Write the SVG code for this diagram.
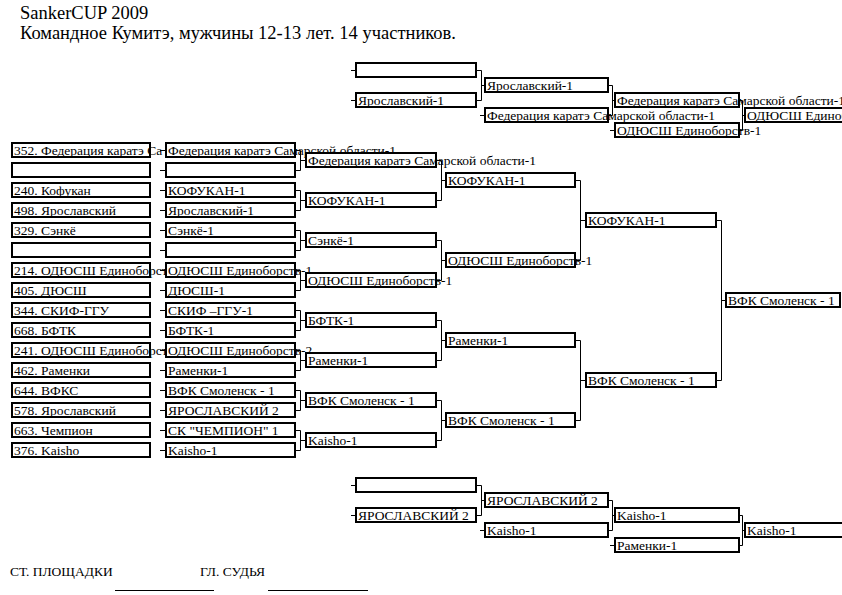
<svg xmlns="http://www.w3.org/2000/svg" width="842" height="595" viewBox="0 0 842 595">
<style>
.b{fill:#fff;stroke:#000;stroke-width:2}
.t{font-family:"Liberation Serif","Times New Roman",serif;font-size:13.5px;fill:#000}
.h{font-family:"Liberation Serif","Times New Roman",serif;font-size:18.5px;fill:#000}
.c{fill:none;stroke:#000;stroke-width:1}
</style>
<rect width="842" height="595" fill="#fff"/>
<g id="title">
<text class="h" x="20" y="19">SankerCUP 2009</text>
<text class="h" x="20" y="39">Командное Кумитэ, мужчины 12-13 лет. 14 участников.</text>
</g>
<g id="connectors" class="c">
<path d="M160 150.5H165M160 170.5H165M160 190.5H165M160 210.5H165M160 230.5H165M160 250.5H165M160 270.5H165M160 290.5H165M160 310.5H165M160 330.5H165M160 350.5H165M160 370.5H165M160 390.5H165M160 410.5H165M160 430.5H165M160 450.5H165"/>
<path d="M296 150.5H300.5V170.5H296M300.5 160.5H305M296 190.5H300.5V210.5H296M300.5 200.5H305M296 230.5H300.5V250.5H296M300.5 240.5H305M296 270.5H300.5V290.5H296M300.5 280.5H305M296 310.5H300.5V330.5H296M300.5 320.5H305M296 350.5H300.5V370.5H296M300.5 360.5H305M296 390.5H300.5V410.5H296M300.5 400.5H305M296 430.5H300.5V450.5H296M300.5 440.5H305"/>
<path d="M437 160.5H441.5V200.5H437M441.5 180.5H445M437 240.5H441.5V280.5H437M441.5 260.5H445M437 320.5H441.5V360.5H437M441.5 340.5H445M437 400.5H441.5V440.5H437M441.5 420.5H445"/>
<path d="M576 180.5H580.5V260.5H576M580.5 220.5H585M576 340.5H580.5V420.5H576M580.5 380.5H585"/>
<path d="M717 220.5H721.5V380.5H717M721.5 300.5H725"/>
<path d="M351 70.5H355M351 100.5H355M477 70.5H481.5V100.5H477M481.5 85.5H484M480 115.5H484M609 85.5H612.5V115.5H609M612.5 100.5H614M610 130.5H614M740 100.5H742.5V130.5H740M742.5 115.5H744"/>
<path d="M351 485.5H355M351 515.5H355M477 485.5H481.5V515.5H477M481.5 500.5H484M480 530.5H484M609 500.5H612.5V530.5H609M612.5 515.5H614M610 545.5H614M740 515.5H742.5V545.5H740M742.5 530.5H744"/>
<path d="M115 590.5H214M268 590.5H368"/>
</g>
<g id="entrants">
<g id="e1"><rect class="b" x="12" y="143" width="138" height="14"/><text class="t" x="14" y="155">352. Федерация каратэ Са</text></g>
<g id="e2"><rect class="b" x="12" y="163" width="138" height="14"/></g>
<g id="e3"><rect class="b" x="12" y="183" width="138" height="14"/><text class="t" x="14" y="195">240. Кофукан</text></g>
<g id="e4"><rect class="b" x="12" y="203" width="138" height="14"/><text class="t" x="14" y="215">498. Ярославский</text></g>
<g id="e5"><rect class="b" x="12" y="223" width="138" height="14"/><text class="t" x="14" y="235">329. Сэнкё</text></g>
<g id="e6"><rect class="b" x="12" y="243" width="138" height="14"/></g>
<g id="e7"><rect class="b" x="12" y="263" width="138" height="14"/><text class="t" x="14" y="275">214. ОДЮСШ Единоборст</text></g>
<g id="e8"><rect class="b" x="12" y="283" width="138" height="14"/><text class="t" x="14" y="295">405. ДЮСШ</text></g>
<g id="e9"><rect class="b" x="12" y="303" width="138" height="14"/><text class="t" x="14" y="315">344. СКИФ-ГГУ</text></g>
<g id="e10"><rect class="b" x="12" y="323" width="138" height="14"/><text class="t" x="14" y="335">668. БФТК</text></g>
<g id="e11"><rect class="b" x="12" y="343" width="138" height="14"/><text class="t" x="14" y="355">241. ОДЮСШ Единоборст</text></g>
<g id="e12"><rect class="b" x="12" y="363" width="138" height="14"/><text class="t" x="14" y="375">462. Раменки</text></g>
<g id="e13"><rect class="b" x="12" y="383" width="138" height="14"/><text class="t" x="14" y="395">644. ВФКС</text></g>
<g id="e14"><rect class="b" x="12" y="403" width="138" height="14"/><text class="t" x="14" y="415">578. Ярославский</text></g>
<g id="e15"><rect class="b" x="12" y="423" width="138" height="14"/><text class="t" x="14" y="435">663. Чемпион</text></g>
<g id="e16"><rect class="b" x="12" y="443" width="138" height="14"/><text class="t" x="14" y="455">376. Kaisho</text></g>
</g>
<g id="round1">
<g id="r1-1"><rect class="b" x="166" y="143" width="129" height="14"/><text class="t" x="168" y="155">Федерация каратэ Самарской области-1</text></g>
<g id="r1-2"><rect class="b" x="166" y="163" width="129" height="14"/></g>
<g id="r1-3"><rect class="b" x="166" y="183" width="129" height="14"/><text class="t" x="168" y="195">КОФУКАН-1</text></g>
<g id="r1-4"><rect class="b" x="166" y="203" width="129" height="14"/><text class="t" x="168" y="215">Ярославский-1</text></g>
<g id="r1-5"><rect class="b" x="166" y="223" width="129" height="14"/><text class="t" x="168" y="235">Сэнкё-1</text></g>
<g id="r1-6"><rect class="b" x="166" y="243" width="129" height="14"/></g>
<g id="r1-7"><rect class="b" x="166" y="263" width="129" height="14"/><text class="t" x="168" y="275">ОДЮСШ Единоборств-1</text></g>
<g id="r1-8"><rect class="b" x="166" y="283" width="129" height="14"/><text class="t" x="168" y="295">ДЮСШ-1</text></g>
<g id="r1-9"><rect class="b" x="166" y="303" width="129" height="14"/><text class="t" x="168" y="315">СКИФ –ГГУ-1</text></g>
<g id="r1-10"><rect class="b" x="166" y="323" width="129" height="14"/><text class="t" x="168" y="335">БФТК-1</text></g>
<g id="r1-11"><rect class="b" x="166" y="343" width="129" height="14"/><text class="t" x="168" y="355">ОДЮСШ Единоборств-2</text></g>
<g id="r1-12"><rect class="b" x="166" y="363" width="129" height="14"/><text class="t" x="168" y="375">Раменки-1</text></g>
<g id="r1-13"><rect class="b" x="166" y="383" width="129" height="14"/><text class="t" x="168" y="395">ВФК Смоленск - 1</text></g>
<g id="r1-14"><rect class="b" x="166" y="403" width="129" height="14"/><text class="t" x="168" y="415">ЯРОСЛАВСКИЙ 2</text></g>
<g id="r1-15"><rect class="b" x="166" y="423" width="129" height="14"/><text class="t" x="168" y="435">СК "ЧЕМПИОН" 1</text></g>
<g id="r1-16"><rect class="b" x="166" y="443" width="129" height="14"/><text class="t" x="168" y="455">Kaisho-1</text></g>
</g>
<g id="round2">
<g id="r2-1"><rect class="b" x="306" y="153" width="130" height="14"/><text class="t" x="308" y="165">Федерация каратэ Самарской области-1</text></g>
<g id="r2-2"><rect class="b" x="306" y="193" width="130" height="14"/><text class="t" x="308" y="205">КОФУКАН-1</text></g>
<g id="r2-3"><rect class="b" x="306" y="233" width="130" height="14"/><text class="t" x="308" y="245">Сэнкё-1</text></g>
<g id="r2-4"><rect class="b" x="306" y="273" width="130" height="14"/><text class="t" x="308" y="285">ОДЮСШ Единоборств-1</text></g>
<g id="r2-5"><rect class="b" x="306" y="313" width="130" height="14"/><text class="t" x="308" y="325">БФТК-1</text></g>
<g id="r2-6"><rect class="b" x="306" y="353" width="130" height="14"/><text class="t" x="308" y="365">Раменки-1</text></g>
<g id="r2-7"><rect class="b" x="306" y="393" width="130" height="14"/><text class="t" x="308" y="405">ВФК Смоленск - 1</text></g>
<g id="r2-8"><rect class="b" x="306" y="433" width="130" height="14"/><text class="t" x="308" y="445">Kaisho-1</text></g>
</g>
<g id="round3">
<g id="r3-1"><rect class="b" x="446" y="173" width="129" height="14"/><text class="t" x="448" y="185">КОФУКАН-1</text></g>
<g id="r3-2"><rect class="b" x="446" y="253" width="129" height="14"/><text class="t" x="448" y="265">ОДЮСШ Единоборств-1</text></g>
<g id="r3-3"><rect class="b" x="446" y="333" width="129" height="14"/><text class="t" x="448" y="345">Раменки-1</text></g>
<g id="r3-4"><rect class="b" x="446" y="413" width="129" height="14"/><text class="t" x="448" y="425">ВФК Смоленск - 1</text></g>
</g>
<g id="round4">
<g id="r4-1"><rect class="b" x="586" y="213" width="130" height="14"/><text class="t" x="588" y="225">КОФУКАН-1</text></g>
<g id="r4-2"><rect class="b" x="586" y="373" width="130" height="14"/><text class="t" x="588" y="385">ВФК Смоленск - 1</text></g>
</g>
<g id="final">
<rect class="b" x="726" y="293" width="114" height="14"/><text class="t" x="728" y="305">ВФК Смоленск - 1</text>
</g>
<g id="top-bracket">
<g id="t1-1"><rect class="b" x="356" y="63" width="120" height="14"/></g>
<g id="t1-2"><rect class="b" x="356" y="93" width="120" height="14"/><text class="t" x="358" y="105">Ярославский-1</text></g>
<g id="t2-1"><rect class="b" x="485" y="78" width="123" height="14"/><text class="t" x="487" y="90">Ярославский-1</text></g>
<g id="t2-2"><rect class="b" x="485" y="108" width="123" height="14"/><text class="t" x="487" y="120">Федерация каратэ Самарской области-1</text></g>
<g id="t3-1"><rect class="b" x="615" y="93" width="124" height="14"/><text class="t" x="617" y="105">Федерация каратэ Самарской области-1</text></g>
<g id="t3-2"><rect class="b" x="615" y="123" width="124" height="14"/><text class="t" x="617" y="135">ОДЮСШ Единоборств-1</text></g>
<g id="t4-1"><rect class="b" x="745" y="108" width="110" height="14"/><text class="t" x="747" y="120">ОДЮСШ Единоборств-1</text></g>
</g>
<g id="bottom-bracket">
<g id="b1-1"><rect class="b" x="356" y="478" width="120" height="14"/></g>
<g id="b1-2"><rect class="b" x="356" y="508" width="120" height="14"/><text class="t" x="358" y="520">ЯРОСЛАВСКИЙ 2</text></g>
<g id="b2-1"><rect class="b" x="485" y="493" width="123" height="14"/><text class="t" x="487" y="505">ЯРОСЛАВСКИЙ 2</text></g>
<g id="b2-2"><rect class="b" x="485" y="523" width="123" height="14"/><text class="t" x="487" y="535">Kaisho-1</text></g>
<g id="b3-1"><rect class="b" x="615" y="508" width="124" height="14"/><text class="t" x="617" y="520">Kaisho-1</text></g>
<g id="b3-2"><rect class="b" x="615" y="538" width="124" height="14"/><text class="t" x="617" y="550">Раменки-1</text></g>
<g id="b4-1"><rect class="b" x="745" y="523" width="110" height="14"/><text class="t" x="747" y="535">Kaisho-1</text></g>
</g>
<g id="footer">
<text class="t" x="10" y="576">СТ. ПЛОЩАДКИ</text>
<text class="t" x="200" y="576">ГЛ. СУДЬЯ</text>
</g>
</svg>
